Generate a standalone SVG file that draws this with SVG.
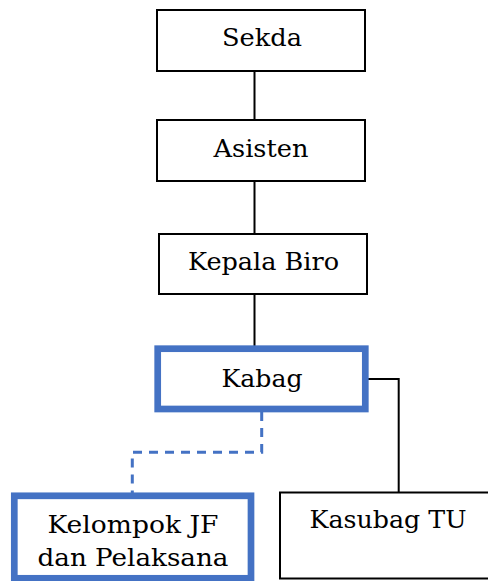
<svg xmlns="http://www.w3.org/2000/svg" width="488" height="581" viewBox="0 0 488 581">
<style>
.box{fill:#fff;stroke:#000;stroke-width:2}
.hl{fill:#fff;stroke:#4472c4;stroke-width:6.7}
.lbl{font-family:"DejaVu Serif","Liberation Serif",serif;font-size:24.5px;fill:#000;text-anchor:middle}
.ln{fill:none;stroke:#000;stroke-width:2}
.dash{fill:none;stroke:#4472c4;stroke-width:3;stroke-dasharray:9 7}
</style>
<rect width="488" height="581" fill="#fff"/>
<g id="connectors">
<line class="ln" x1="254.5" y1="71" x2="254.5" y2="120"/>
<line class="ln" x1="254.5" y1="181" x2="254.5" y2="234"/>
<line class="ln" x1="254.5" y1="294" x2="254.5" y2="346"/>
<polyline class="ln" points="368,379 398.7,379 398.7,492"/>
<polyline class="dash" points="261.7,412 261.7,452.3 132.3,452.3 132.3,493"/>
</g>
<g id="sekda">
<rect class="box" x="157" y="10" width="208" height="61"/>
<text class="lbl" x="262" y="46" textLength="80" lengthAdjust="spacingAndGlyphs">Sekda</text>
</g>
<g id="asisten">
<rect class="box" x="157" y="120" width="208" height="61"/>
<text class="lbl" x="261" y="157" textLength="95" lengthAdjust="spacingAndGlyphs">Asisten</text>
</g>
<g id="kepala-biro">
<rect class="box" x="159" y="234" width="208" height="60"/>
<text class="lbl" x="263.5" y="270" textLength="151" lengthAdjust="spacingAndGlyphs">Kepala Biro</text>
</g>
<g id="kabag">
<rect class="hl" x="157.7" y="348.7" width="207.6" height="60.3"/>
<text class="lbl" x="262" y="387" textLength="81" lengthAdjust="spacingAndGlyphs">Kabag</text>
</g>
<g id="kelompok-jf">
<rect class="hl" x="14.3" y="495.8" width="236.7" height="82.5"/>
<text class="lbl" x="133" y="533" textLength="171" lengthAdjust="spacingAndGlyphs">Kelompok JF</text>
<text class="lbl" x="133" y="566" textLength="191" lengthAdjust="spacingAndGlyphs">dan Pelaksana</text>
</g>
<g id="kasubag-tu">
<rect class="box" x="280" y="492.5" width="215" height="86"/>
<text class="lbl" x="388" y="528" textLength="157" lengthAdjust="spacingAndGlyphs">Kasubag TU</text>
</g>
</svg>
